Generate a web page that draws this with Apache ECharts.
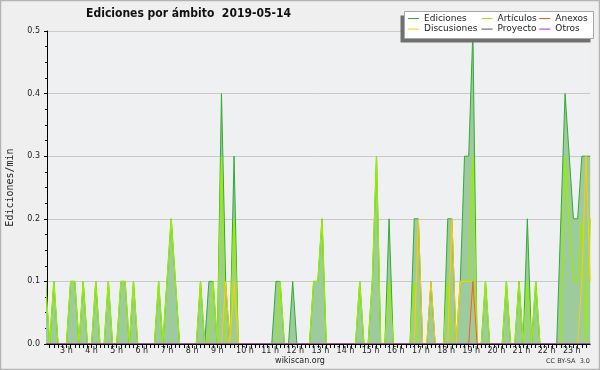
<!DOCTYPE html>
<html>
<head>
<meta charset="utf-8">
<script src="https://cdn.jsdelivr.net/npm/echarts@6/dist/echarts.min.js"></script>
<style>
html,body{margin:0;padding:0;background:#efefef;}
#chart{width:600px;height:370px;}
</style>
</head>
<body>
<div id="chart"></div>
<script>
// 10-minute buckets starting at 02:30 (minutes since midnight)
const startMinute = 150;
const stepMinutes = 10;

const ediciones = [
  0.1,0,0.1,0,0,0,0.1,0.1,0,0.1,
  0,0,0.1,0,0,0.1,0,0,0.1,0.1,
  0,0.1,0,0,0,0,0,0.1,0,0.1,
  0.2,0.1,0,0,0,0,0,0.1,0,0.1,
  0.1,0,0.4,0.1,0,0.3,0,0,0,0,
  0,0,0,0,0,0.1,0.1,0,0,0.1,
  0,0,0,0,0.1,0.1,0.2,0,0,0,
  0,0,0,0,0,0.1,0,0,0.1,0.3,
  0,0,0.2,0,0,0,0,0,0.2,0.2,
  0,0,0.1,0,0,0,0.2,0.2,0,0.1,
  0.3,0.3,0.5,0,0,0.1,0,0,0,0,
  0.1,0,0,0.1,0,0.2,0,0.1,0,0,
  0,0,0,0.2,0.4,0.3,0.2,0.2,0.3,0.3,
  0.3
];
const articulos = [
  0.1,0,0.1,0,0,0,0.1,0.1,0,0.1,
  0,0,0.1,0,0,0.1,0,0,0.1,0.1,
  0,0.1,0,0,0,0,0,0.1,0,0.1,
  0.2,0.1,0,0,0,0,0,0.1,0,0,
  0.1,0,0.3,0,0,0.2,0,0,0,0,
  0,0,0,0,0,0,0.1,0,0,0,
  0,0,0,0,0.1,0.1,0.2,0,0,0,
  0,0,0,0,0,0.1,0,0,0.1,0.3,
  0,0,0.1,0,0,0,0,0,0.1,0,
  0,0,0,0,0,0,0.1,0,0,0.1,
  0.1,0.1,0.3,0,0,0.1,0,0,0,0,
  0.1,0,0,0.1,0,0.1,0,0.1,0,0,
  0,0,0,0,0.3,0.2,0.1,0.1,0.2,0,
  0.2
];
const discusiones = [
  0,0,0,0,0,0,0,0,0,0,
  0,0,0,0,0,0,0,0,0,0,
  0,0,0,0,0,0,0,0,0,0,
  0,0,0,0,0,0,0,0,0,0,
  0,0,0,0.1,0,0.1,0,0,0,0,
  0,0,0,0,0,0,0,0,0,0,
  0,0,0,0,0,0,0,0,0,0,
  0,0,0,0,0,0,0,0,0,0,
  0,0,0,0,0,0,0,0,0,0.2,
  0,0,0.1,0,0,0,0,0.2,0,0.1,
  0.1,0.1,0.1,0,0,0,0,0,0,0,
  0,0,0,0,0,0,0,0,0,0,
  0,0,0,0,0,0,0,0,0.1,0.3,
  0.1
];
const anexos = [
  0,0,0,0,0,0,0,0,0,0,
  0,0,0,0,0,0,0,0,0,0,
  0,0,0,0,0,0,0,0,0,0,
  0,0,0,0,0,0,0,0,0,0,
  0,0,0,0,0,0,0,0,0,0,
  0,0,0,0,0,0,0,0,0,0,
  0,0,0,0,0,0,0,0,0,0,
  0,0,0,0,0,0,0,0,0,0,
  0,0,0,0,0,0,0,0,0,0,
  0,0,0,0,0,0,0,0,0,0,
  0,0,0.1,0,0,0,0,0,0,0,
  0,0,0,0,0,0,0,0,0,0,
  0,0,0,0,0,0,0,0,0,0,
  0
];
const proyecto = [
  0,0,0,0,0,0,0,0,0,0,
  0,0,0,0,0,0,0,0,0,0,
  0,0,0,0,0,0,0,0,0,0,
  0,0,0,0,0,0,0,0,0,0,
  0,0,0,0,0,0,0,0,0,0,
  0,0,0,0,0,0,0,0,0,0,
  0,0,0,0,0,0,0,0,0,0,
  0,0,0,0,0,0,0,0,0,0,
  0,0,0,0,0,0,0,0,0,0,
  0,0,0,0,0,0,0,0,0,0,
  0,0,0,0,0,0,0,0,0,0,
  0,0,0,0,0,0,0,0,0,0,
  0,0,0,0,0,0,0,0,0,0,
  0
];
const otros = [
  0,0,0,0,0,0,0,0,0,0,
  0,0,0,0,0,0,0,0,0,0,
  0,0,0,0,0,0,0,0,0,0,
  0,0,0,0,0,0,0,0,0,0,
  0,0,0,0,0,0,0,0,0,0,
  0,0,0,0,0,0,0,0,0,0,
  0,0,0,0,0,0,0,0,0,0,
  0,0,0,0,0,0,0,0,0,0,
  0,0,0,0,0,0,0,0,0,0,
  0,0,0,0,0,0,0,0,0,0,
  0,0,0,0,0,0,0,0,0,0,
  0,0,0,0,0,0,0,0,0,0,
  0,0,0,0,0,0,0,0,0,0,
  0
];
const hourTicks = [3,4,5,6,7,8,9,10,11,12,13,14,15,16,17,18,19,20,21,22,23];
const yTicks = [0, 0.1, 0.2, 0.3, 0.4, 0.5];

function pairs(arr){ return arr.map((v,i)=>[startMinute + i*stepMinutes, v]); }
const minorTickValues = [];
for (let m = 160; m <= 1440; m += 10) minorTickValues.push(m);

const smallFont = 'DejaVu Sans';
const chart = echarts.init(document.getElementById('chart'), null, {renderer:'canvas'});

function lineSeries(name, data, color, width, extra){
  return Object.assign({
    name: name, type: 'line', data: pairs(data), symbol: 'none', showSymbol: false,
    lineStyle: {color: color, width: width}, itemStyle: {color: color},
    animation: false, silent: true, clip: true
  }, extra || {});
}

const legendCommon = {
  orient: 'vertical', top: 13.5, itemWidth: 11, itemHeight: 1, icon: 'rect',
  itemGap: 0.6, selectedMode: false, padding: 0, z: 12,
  textStyle: {fontFamily: smallFont, fontSize: 9, color: '#222', lineHeight: 10}
};

chart.setOption({
  backgroundColor: '#efefef',
  animation: false,
  grid: {left: 47, right: 10, top: 31, bottom: 26, show: true, backgroundColor: '#eef0f2',
    borderWidth: 0, containLabel: false, outerBoundsMode: 'none'},
  legend: [
    Object.assign({}, legendCommon, {left: 408, data: ['Ediciones','Discusiones']}),
    Object.assign({}, legendCommon, {left: 481.5, data: ['Artículos','Proyecto']}),
    Object.assign({}, legendCommon, {left: 539.3, data: ['Anexos','Otros']})
  ],
  xAxis: {
    type: 'value', min: 153.6, max: 1449.5, z: 5,
    axisLine: {show: true, lineStyle: {color: '#000', width: 1}},
    axisTick: {show: true, length: 4, lineStyle: {color: '#000'}, customValues: minorTickValues},
    axisLabel: {
      show: true, customValues: hourTicks.map(h => h*60),
      formatter: v => (v/60) + ' h', align: 'left', padding: [0,0,0,2],
      margin: 3, fontFamily: smallFont, fontSize: 8, color: '#222'
    },
    splitLine: {show: false}
  },
  yAxis: {
    type: 'value', min: 0, max: 0.5, interval: 0.1,
    name: 'Ediciones/min', nameLocation: 'middle', nameGap: 32,
    nameTextStyle: {fontFamily: 'DejaVu Sans Mono', fontSize: 10, color: '#222'},
    axisLine: {show: true, lineStyle: {color: '#000'}},
    axisTick: {show: true, length: 3, lineStyle: {color: '#000'}},
    minorTick: {show: true, splitNumber: 4, length: 2, lineStyle: {color: '#000'}},
    axisLabel: {formatter: v => v.toFixed(1), margin: 7, fontFamily: smallFont, fontSize: 8, color: '#222'},
    splitLine: {show: true, lineStyle: {color: '#c9c9c9', width: 1}}
  },
  series: [
    lineSeries('Ediciones', ediciones, '#33aa33', 1, {areaStyle: {color: '#9dcb9d', opacity: 1}}),
    lineSeries('Artículos', articulos, '#99ee00', 1.3),
    lineSeries('Discusiones', discusiones, '#ffcc00', 1),
    lineSeries('Anexos', anexos, '#ff5a1f', 1),
    lineSeries('Proyecto', proyecto, '#555555', 1),
    lineSeries('Otros', otros, '#9933ee', 1)
  ],
  graphic: [
    {type: 'rect', silent: true, z: -1, shape: {x: 0.5, y: 0.5, width: 599, height: 369},
      style: {fill: 'none', stroke: '#b4b4b4', lineWidth: 1.5}},
    {type: 'rect', silent: true, z: 10, shape: {x: 400.5, y: 15.5, width: 190, height: 27},
      style: {fill: '#707070'}},
    {type: 'rect', silent: true, z: 11, shape: {x: 404.5, y: 11.5, width: 189, height: 27},
      style: {fill: '#ffffff', stroke: '#a8a8a8', lineWidth: 1}},
    {type: 'text', silent: true, z: 10, style: {text: 'Ediciones por ámbito  2019-05-14', x: 188.5, y: 14,
      textAlign: 'center', textVerticalAlign: 'middle', fill: '#111',
      font: 'bold 12px "DejaVu Sans Condensed", "DejaVu Sans"'}},
    {type: 'text', silent: true, z: 10, style: {text: 'wikiscan.org', x: 300, y: 361,
      textAlign: 'center', textVerticalAlign: 'middle', fill: '#222', font: '8px "DejaVu Sans"'}},
    {type: 'text', silent: true, z: 10, style: {text: 'CC BY-SA  3.0', x: 590, y: 361,
      textAlign: 'right', textVerticalAlign: 'middle', fill: '#333', font: '6.5px "DejaVu Sans"'}}
  ]
});
</script>
</body>
</html>
